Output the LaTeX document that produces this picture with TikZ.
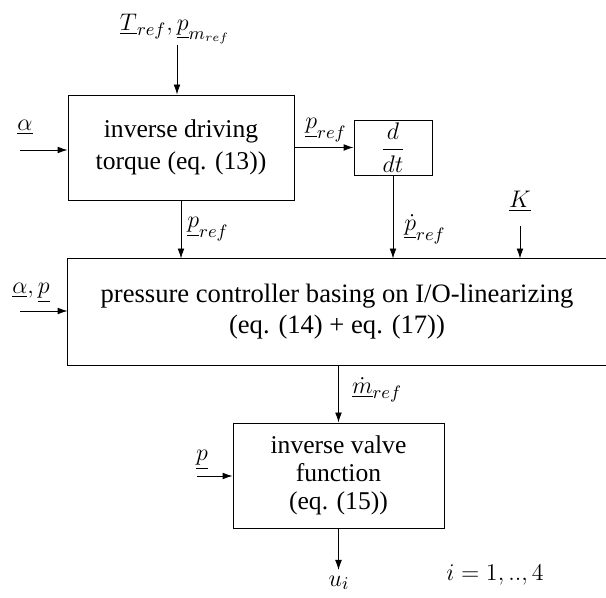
\documentclass[tikz,border=0pt]{standalone}
\usepackage{fontspec}
\setmainfont{Liberation Serif}
\newfontfamily\tms{Liberation Serif}
\usetikzlibrary{arrows.meta}
\begin{document}
\begin{tikzpicture}[x=0.5pt,y=-0.5pt,
  blk/.style={draw,line width=0.45pt,align=center,inner sep=0pt,font=\tms\fontsize{12.8}{16}\selectfont},
  lbl/.style={inner sep=0pt,font=\fontsize{12.6}{15}\selectfont},
  arr/.style={-{Latex[length=5pt,width=3.4pt]},line width=0.45pt}]
\useasboundingbox (0,0) rectangle (606,598);
% blocks
\node[blk,minimum width=113pt,minimum height=52.5pt] (inv) at (181,147.5) {inverse driving\\torque (eq. (13))};
\node[blk,minimum width=39pt,minimum height=27.5pt] (ddt) at (393,147.5) {$\displaystyle\frac{d}{dt}$};
\node[blk,draw=none,minimum width=269pt,minimum height=53pt,font=\tms\fontsize{13.3}{15.5}\selectfont] (ctrl) at (337,312) {pressure controller basing on I/O-linearizing\\(eq. (14) + eq. (17))};
\draw[line width=0.45pt] (ctrl.north east) -- (ctrl.north west) -- (ctrl.south west) -- (ctrl.south east);
\node[blk,minimum width=105.5pt,minimum height=52.5pt,font=\tms\fontsize{12.8}{14}\selectfont] (valve) at (338.5,475.5) {inverse valve\\function\\(eq. (15))};
% free ends
\coordinate (tin) at (177,45);
\coordinate (ain) at (20,150);
\coordinate (kin) at (520,226);
\coordinate (apin) at (20,311);
\coordinate (pin) at (197,476);
\coordinate (uout) at (338.5,570);
% connectors
\draw[arr] (tin) -- (tin |- inv.north);
\draw[arr] (ain) -- (ain -| inv.west);
\draw[arr] (inv.east) -- (ddt.west);
\draw[arr] (inv.south) -- (inv.south |- ctrl.north);
\draw[arr] (ddt.south) -- (ddt.south |- ctrl.north);
\draw[arr] (kin) -- (kin |- ctrl.north);
\draw[arr] (apin) -- (apin -| ctrl.west);
\draw[arr] (valve.north |- ctrl.south) -- (valve.north);
\draw[arr] (pin) -- (pin -| valve.west);
\draw[arr] (valve.south) -- (uout);
% labels
\node[lbl] (tl) at (175,29) {$\underline{T}_{ref},\underline{p}_{m_{ref}}$};
\node[lbl] (al) at (25,127) {$\underline{\alpha}$};
\node[lbl] (prl) at (326,130) {$\underline{p}_{ref}$};
\node[lbl] (pdl) at (425,229) {$\underline{\dot p}_{ref}$};
\node[lbl] (kl) at (520,201) {$\underline{K}$};
\node[lbl] (pbl) at (208,229) {$\underline{p}_{ref}$};
\node[lbl] (apl) at (31,293) {$\underline{\alpha},\underline{p}$};
\node[lbl] (mdl) at (377,390) {$\underline{\dot m}_{ref}$};
\node[lbl] (pl) at (202,460) {$\underline{p}$};
\node[lbl] (ul) at (339,583) {$u_i$};
\node[lbl] (il) at (495,575) {$i=1,..,4$};
\end{tikzpicture}
\end{document}
